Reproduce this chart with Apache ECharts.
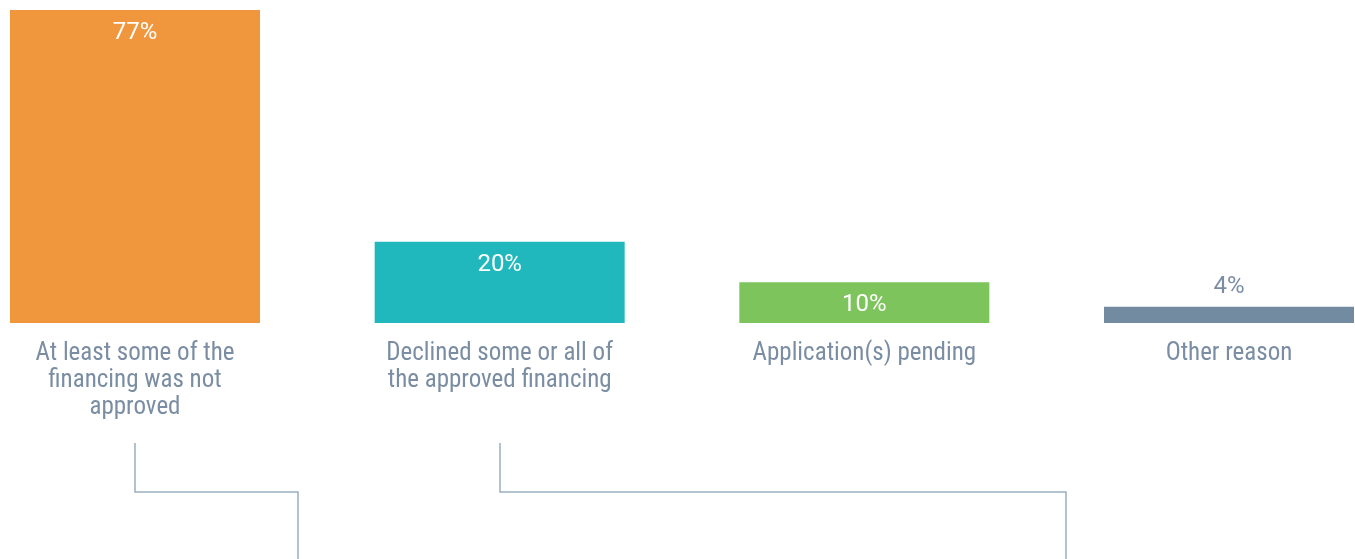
<!DOCTYPE html>
<html>
<head>
<meta charset="utf-8">
<script src="https://cdn.jsdelivr.net/npm/echarts@6/dist/echarts.min.js"></script>
<style>
    html, body { margin: 0; padding: 0; background: #fff; }
    #chart { width: 1355px; height: 559px; }
</style>
</head>
<body>
<div id="chart"></div>
<script>
    // reasons and shares (%)
    var categories = [
        'At least some of the\nfinancing was not\napproved',
        'Declined some or all of\nthe approved financing',
        'Application(s) pending',
        'Other reason'
    ];
    var values = [77, 20, 10, 4];
    var barColors = ['#f0963c', '#20b8bc', '#7dc45c', '#738ba0'];

    var labelFont = '"Roboto Condensed", "Liberation Sans Narrow", Roboto, sans-serif';
    var valueFont = 'Roboto, sans-serif';
    var textColor = '#7a8da3';
    var lineColor = '#9aafc0';

    var chart = echarts.init(document.getElementById('chart'));

    var seriesData = values.map(function (v, i) {
        var inside = v >= 10;
        return {
            value: v,
            itemStyle: { color: barColors[i] },
            label: inside
                ? { position: 'insideTop', distance: 11, color: '#fff' }
                : { position: 'top', distance: 8, color: textColor }
        };
    });

    var option = {
        animation: false,
        grid: { left: 135, right: 126, top: 10, bottom: 236 },
        xAxis: {
            type: 'category',
            data: categories,
            boundaryGap: false,
            axisLine: { show: false },
            axisTick: { show: false },
            axisLabel: {
                interval: 0,
                margin: 17,
                fontFamily: labelFont,
                fontSize: 25,
                lineHeight: 27,
                color: textColor
            }
        },
        yAxis: {
            type: 'value',
            min: 0,
            max: 77,
            show: false,
            splitLine: { show: false }
        },
        series: [{
            type: 'bar',
            barWidth: 250,
            clip: false,
            data: seriesData,
            label: {
                show: true,
                formatter: '{c}%',
                fontFamily: valueFont,
                fontSize: 24
            }
        }],
        // connector lines under the labels
        graphic: [
            {
                type: 'polyline',
                shape: { points: [[135, 443], [135, 492], [298, 492], [298, 559]] },
                style: { stroke: lineColor, lineWidth: 1.5, fill: null }
            },
            {
                type: 'polyline',
                shape: { points: [[500, 443], [500, 492], [1066, 492], [1066, 559]] },
                style: { stroke: lineColor, lineWidth: 1.5, fill: null }
            }
        ]
    };

    chart.setOption(option);
</script>
</body>
</html>
